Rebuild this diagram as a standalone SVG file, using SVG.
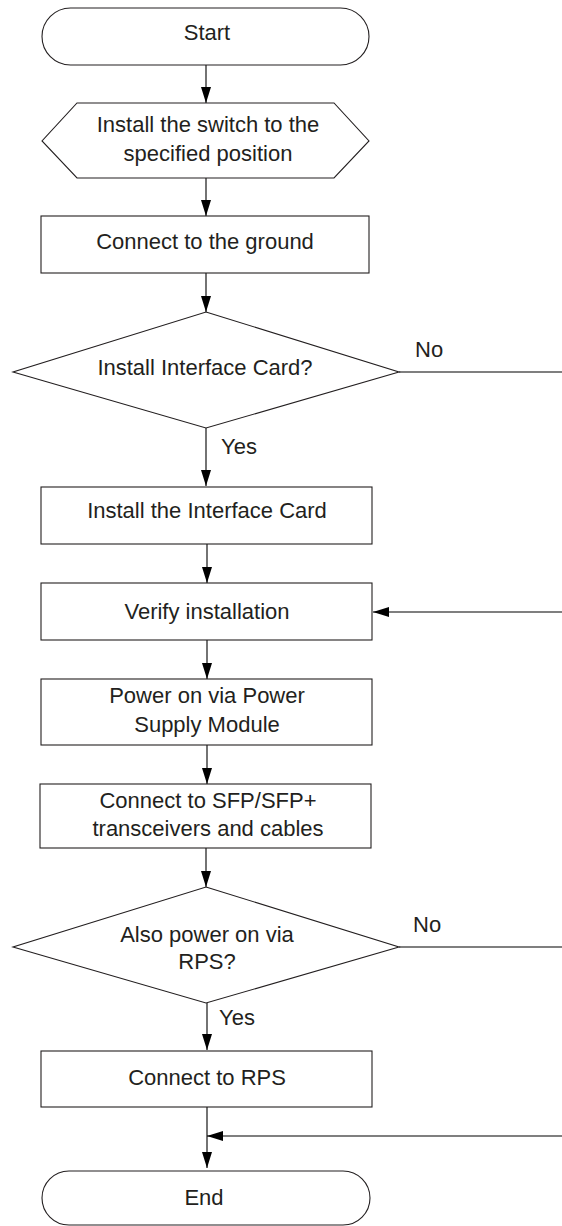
<svg xmlns="http://www.w3.org/2000/svg" width="562" height="1226" viewBox="0 0 562 1226">
<style>
.s{fill:#fff;stroke:#231f20;stroke-width:1.1}
.t{font-family:"Liberation Sans",Arial,sans-serif;font-size:22px;fill:#231f20;text-anchor:middle}
.l{font-family:"Liberation Sans",Arial,sans-serif;font-size:22px;fill:#231f20}
.c{fill:none;stroke:#000;stroke-width:1.1}
</style>
<defs>
<marker id="ah" markerUnits="userSpaceOnUse" markerWidth="16" markerHeight="10" refX="16" refY="5" orient="auto">
<path d="M0,0 L16,5 L0,10 z" fill="#000"/>
</marker>
</defs>
<rect width="562" height="1226" fill="#fff"/>
<g id="connectors">
<line class="c" x1="206" y1="65" x2="206" y2="103" marker-end="url(#ah)"/>
<line class="c" x1="206" y1="178" x2="206" y2="216" marker-end="url(#ah)"/>
<line class="c" x1="206" y1="273" x2="206" y2="312" marker-end="url(#ah)"/>
<line class="c" x1="206" y1="428" x2="206" y2="486" marker-end="url(#ah)"/>
<line class="c" x1="399" y1="372" x2="562" y2="372"/>
<line class="c" x1="207" y1="544" x2="207" y2="583" marker-end="url(#ah)"/>
<line class="c" x1="562" y1="612" x2="373" y2="612" marker-end="url(#ah)"/>
<line class="c" x1="207" y1="640" x2="207" y2="679" marker-end="url(#ah)"/>
<line class="c" x1="207" y1="745" x2="207" y2="784" marker-end="url(#ah)"/>
<line class="c" x1="206" y1="848" x2="206" y2="887" marker-end="url(#ah)"/>
<line class="c" x1="399" y1="947" x2="562" y2="947"/>
<line class="c" x1="207" y1="1003" x2="207" y2="1050" marker-end="url(#ah)"/>
<line class="c" x1="207" y1="1107" x2="207" y2="1168" marker-end="url(#ah)"/>
<line class="c" x1="562" y1="1136" x2="207" y2="1136" marker-end="url(#ah)"/>
<text class="l" x="415" y="357">No</text>
<text class="l" x="221" y="454">Yes</text>
<text class="l" x="413" y="932">No</text>
<text class="l" x="219" y="1025">Yes</text>
</g>
<g id="start">
<rect class="s" x="42" y="8" width="327" height="57" rx="28.5" ry="28.5"/>
<text class="t" x="207" y="40">Start</text>
</g>
<g id="install-switch">
<polygon class="s" points="77,103 334,103 369,141 334,178 77,178 42,141"/>
<text class="t" x="208" y="132">Install the switch to the</text>
<text class="t" x="208" y="161">specified position</text>
</g>
<g id="ground">
<rect class="s" x="41" y="216" width="328" height="57"/>
<text class="t" x="205" y="249">Connect to the ground</text>
</g>
<g id="dec-card">
<polygon class="s" points="206,312 399,372 206,428 13,372"/>
<text class="t" x="205" y="375">Install Interface Card?</text>
</g>
<g id="install-card">
<rect class="s" x="41" y="487" width="331" height="57"/>
<text class="t" x="207" y="518">Install the Interface Card</text>
</g>
<g id="verify">
<rect class="s" x="41" y="583" width="331" height="57"/>
<text class="t" x="207" y="619">Verify installation</text>
</g>
<g id="power">
<rect class="s" x="41" y="679" width="331" height="66"/>
<text class="t" x="207" y="703">Power on via Power</text>
<text class="t" x="207" y="732">Supply Module</text>
</g>
<g id="sfp">
<rect class="s" x="40" y="784" width="331" height="64"/>
<text class="t" x="208" y="808">Connect to SFP/SFP+</text>
<text class="t" x="208" y="836">transceivers and cables</text>
</g>
<g id="dec-rps">
<polygon class="s" points="206,887 399,947 206,1003 13,947"/>
<text class="t" x="207" y="942">Also power on via</text>
<text class="t" x="207" y="969">RPS?</text>
</g>
<g id="rps">
<rect class="s" x="41" y="1051" width="331" height="56"/>
<text class="t" x="207" y="1085">Connect to RPS</text>
</g>
<g id="end">
<rect class="s" x="42" y="1171" width="328" height="54" rx="27" ry="27"/>
<text class="t" x="204" y="1205">End</text>
</g>
</svg>
